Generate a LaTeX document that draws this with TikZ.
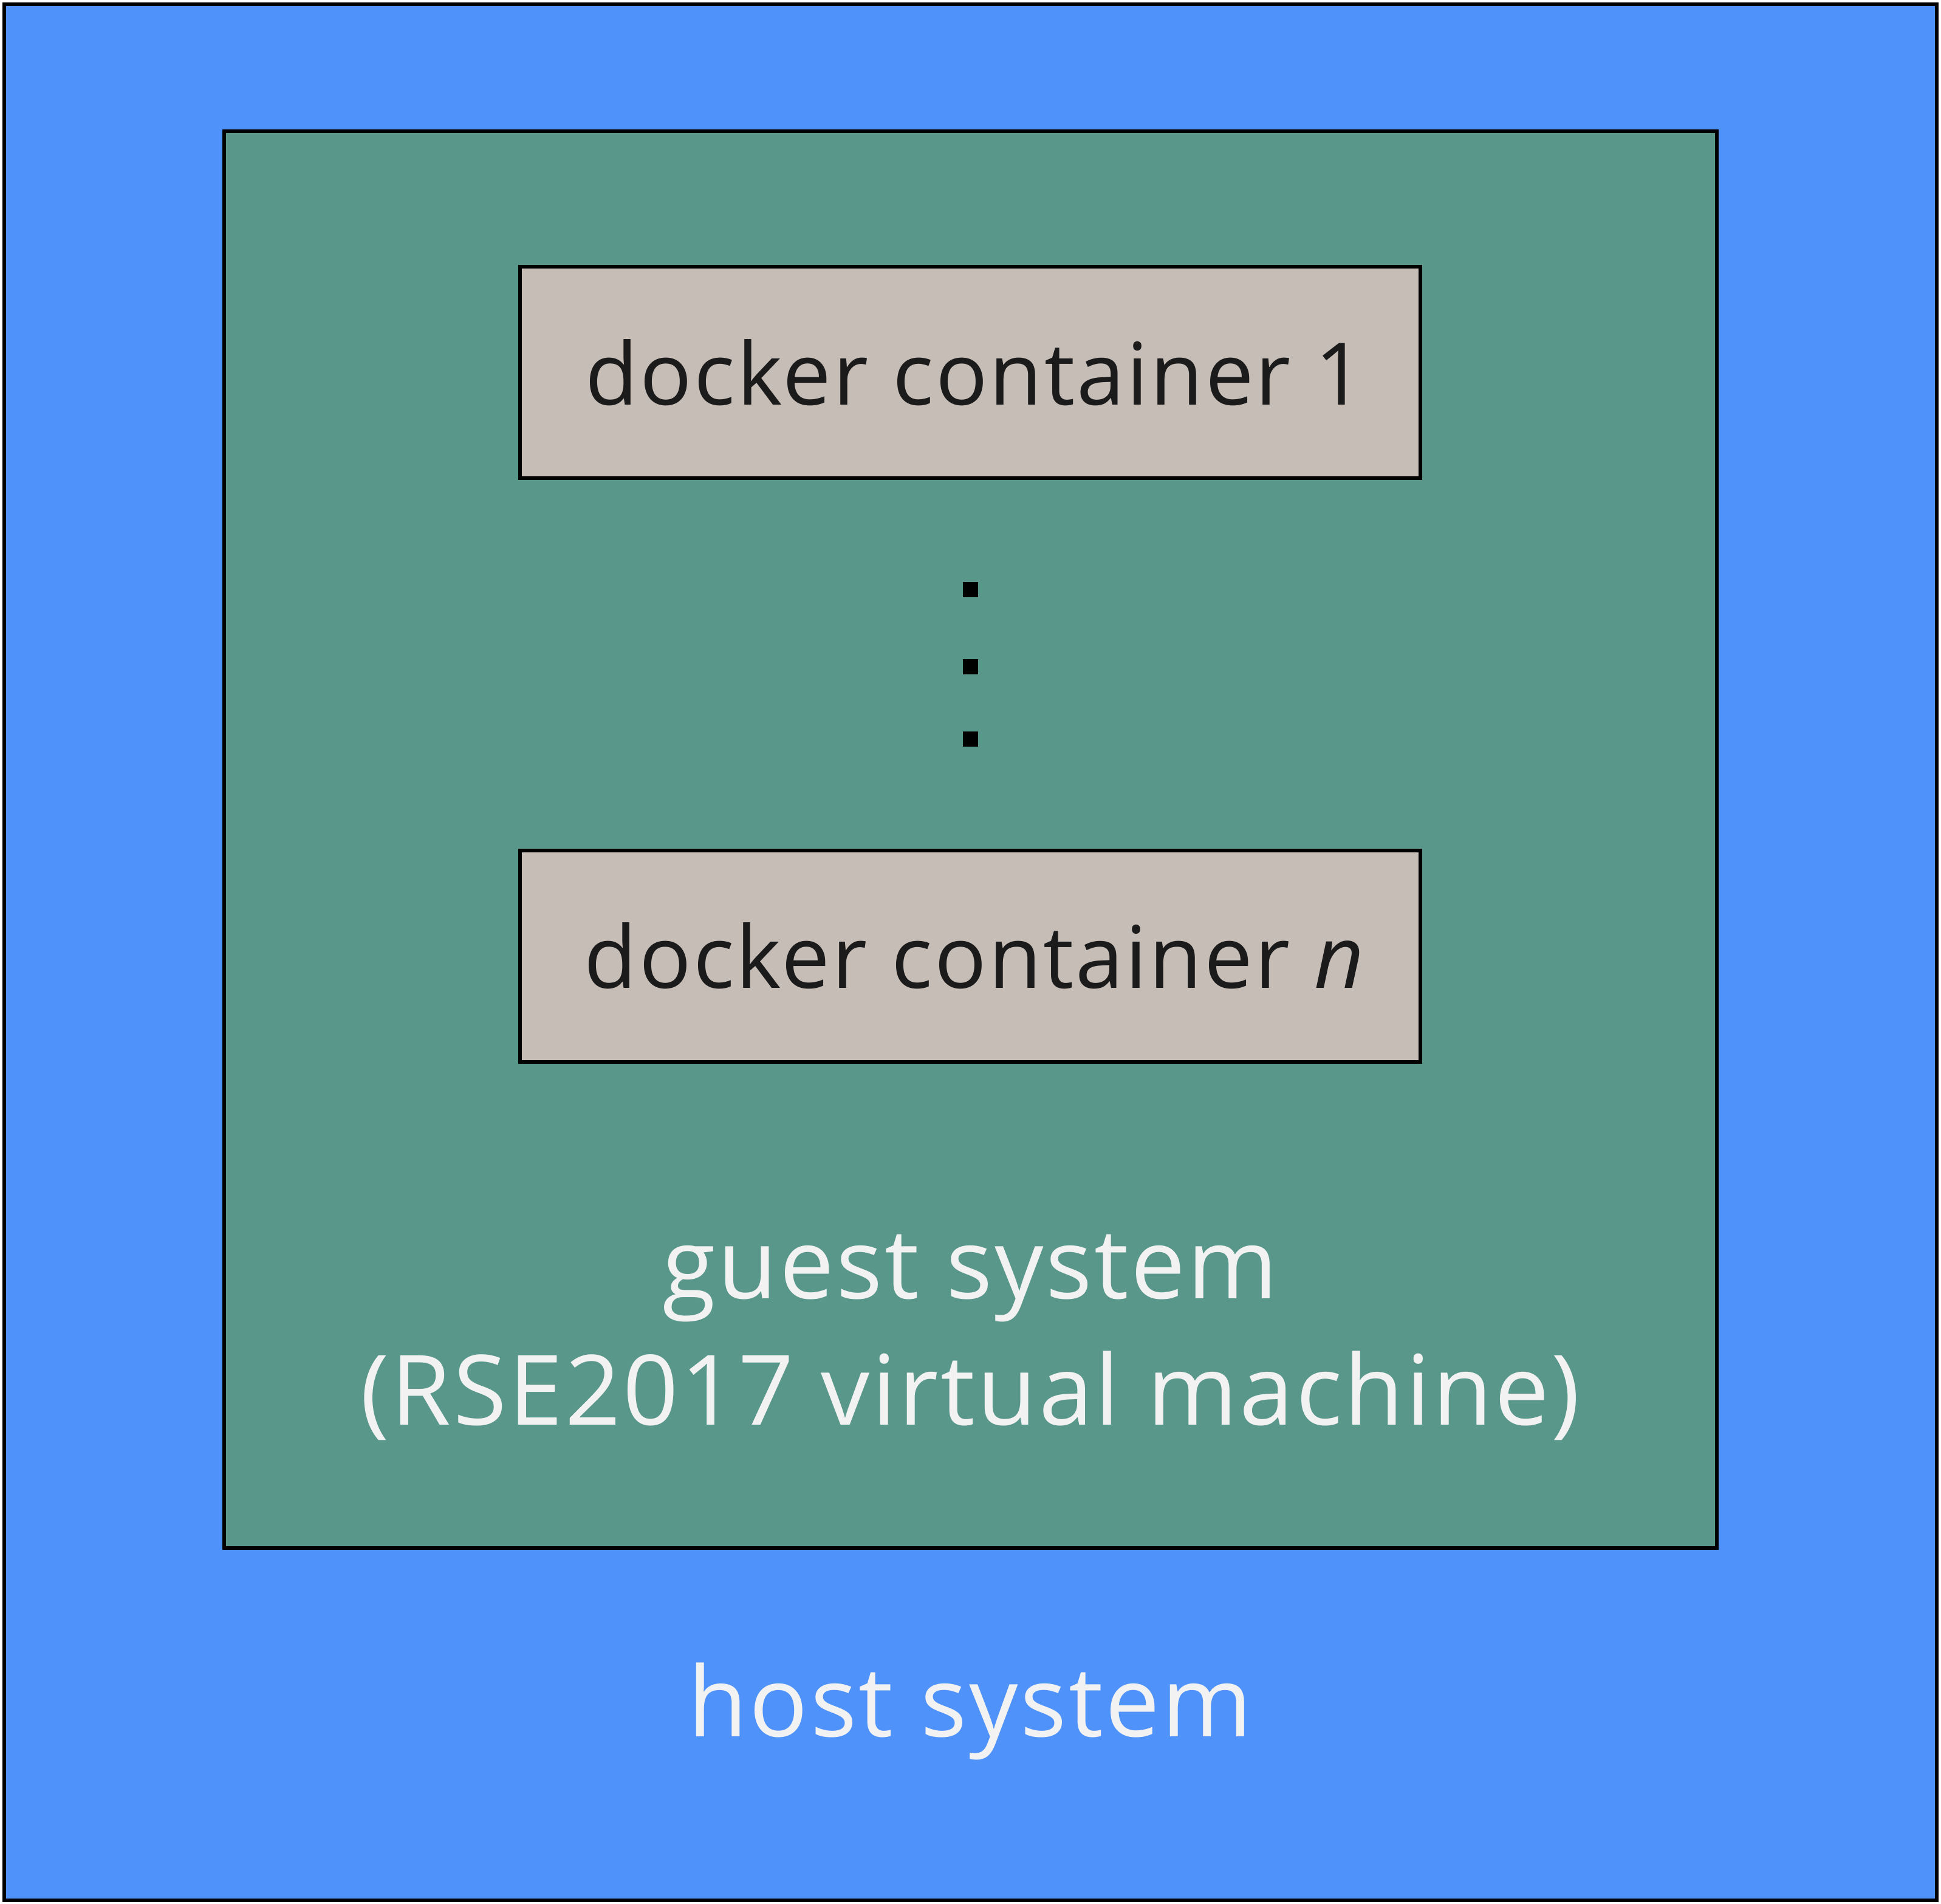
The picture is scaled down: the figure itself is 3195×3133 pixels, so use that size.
\documentclass[tikz,border=0pt]{standalone}
\usepackage{fontspec}
\setmainfont{Open Sans}[LetterSpace=2.2]
\definecolor{hostblue}{RGB}{79,146,250}
\definecolor{guestteal}{RGB}{90,151,139}
\definecolor{boxgrey}{RGB}{199,189,183}
\definecolor{darktext}{RGB}{27,27,27}
\definecolor{lighttext}{RGB}{242,242,242}
\begin{document}
\begin{tikzpicture}[x=0.01cm,y=-0.01cm,
  frame/.style={draw=black,line width=1.7pt,rectangle,inner sep=0pt},
  container/.style={frame,fill=boxgrey,minimum width=14.82cm,minimum height=3.47cm},
  boxtext/.style={anchor=base,inner sep=0pt,text=darktext,font=\fontsize{40.4pt}{48pt}\selectfont},
  systext/.style={anchor=base,inner sep=0pt,text=lighttext,font=\fontsize{45.5pt}{54pt}\selectfont},
  dotmark/.style={fill=black,rectangle,inner sep=0pt,minimum size=0.25cm}]
\useasboundingbox (0,0) rectangle (3195,3133);
\node[frame,fill=hostblue,minimum width=31.79cm,minimum height=31.19cm] (host) at (1597.5,1567.5) {};
\node[frame,fill=guestteal,minimum width=24.55cm,minimum height=23.30cm] (guest) at (1597.5,1382) {};
\node[container] (c1) at (1597,613) {};
\node[container] (cn) at (1597,1574) {};
\node[boxtext] (t1) at (1605,666) {docker container 1};
\node[boxtext] (tn) at (1605,1626) {docker container \textit{n}};
\node[dotmark] (d1) at (1597.5,970.5) {};
\node[dotmark] (d2) at (1597.5,1097.5) {};
\node[dotmark] (d3) at (1597.5,1216.5) {};
\node[systext] (g1) at (1597,2137) {guest system};
\node[systext] (g2) at (1597,2345) {(RSE2017 virtual machine)};
\node[systext] (h1) at (1597,2858) {host system};
\end{tikzpicture}
\end{document}
